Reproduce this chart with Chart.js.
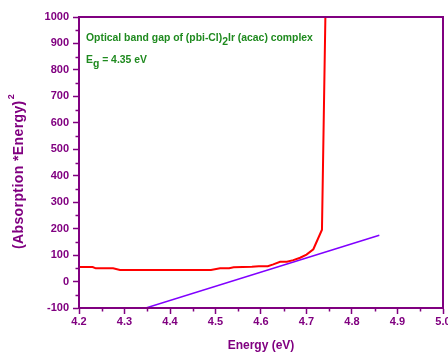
<!DOCTYPE html>
<html>
<head>
<meta charset="utf-8">
<script src="https://cdn.jsdelivr.net/npm/chart.js@4/dist/chart.umd.min.js"></script>
<style>
html,body{margin:0;padding:0;background:#fff;overflow:hidden;}
#wrap{width:448px;height:353px;}
</style>
</head>
<body>
<div id="wrap"><canvas id="c" width="448" height="353"></canvas></div>
<script>
const redEnergy = [4.20, 4.23, 4.237, 4.275, 4.29, 4.30, 4.40, 4.49, 4.51, 4.53, 4.54, 4.58, 4.595, 4.615, 4.627, 4.642, 4.657, 4.671, 4.686, 4.700, 4.715, 4.734, 4.7415];
const redValue  = [55, 55, 50, 50, 44, 44, 44, 44, 50, 50, 54, 56, 58, 58, 65, 75, 75, 81, 90, 102, 122, 196, 1000];
const fitEnergy = [4.347, 4.86];
const fitValue  = [-100, 175];
const xTickLabels = ['4.2','4.3','4.4','4.5','4.6','4.7','4.8','4.9','5.0'];
const yTickLabels = ['-100','0','100','200','300','400','500','600','700','800','900','1000'];
const xTitle = 'Energy (eV)';
const yTitle = ['(Absorption *Energy)', '2'];
const noteLine1 = ['Optical band gap of (pbi-Cl)', '2', 'Ir (acac) complex'];
const noteLine2 = ['E', 'g', ' = 4.35 eV'];

const PURPLE = '#800080';
const GREEN = '#1f8a1f';
const FONT = '"Liberation Sans", Arial, sans-serif';

function pts(xs, ys){ return xs.map((x,i)=>({x:x, y:ys[i]})); }

const isMajorX = v => Math.abs(Math.round(v*100)) % 10 === 0;
const isMajorY = v => Math.round(v) % 100 === 0;

const framePlugin = {
  id: 'frame',
  afterDraw(chart){
    const {ctx, chartArea:a, scales} = chart;
    ctx.save();
    ctx.strokeStyle = PURPLE;
    ctx.lineWidth = 2;
    ctx.strokeRect(a.left, a.top, a.right - a.left, a.bottom - a.top);
    // minor ticks
    ctx.lineWidth = 1.5;
    ctx.beginPath();
    scales.x.ticks.forEach(t => {
      if (!isMajorX(t.value)) {
        const px = Math.round(scales.x.getPixelForValue(t.value)) + 0.5;
        ctx.moveTo(px, a.bottom); ctx.lineTo(px, a.bottom + 3.5);
      }
    });
    scales.y.ticks.forEach(t => {
      if (!isMajorY(t.value)) {
        const py = Math.round(scales.y.getPixelForValue(t.value)) + 0.5;
        ctx.moveTo(a.left, py); ctx.lineTo(a.left - 3.5, py);
      }
    });
    ctx.stroke();
    // annotation text
    ctx.fillStyle = GREEN;
    ctx.textBaseline = 'alphabetic';
    const big = 'bold 10.4px ' + FONT;
    let x = a.left + 7, y = a.top + 24;
    ctx.font = big; ctx.fillText(noteLine1[0], x, y); x += ctx.measureText(noteLine1[0]).width;
    ctx.fillText(noteLine1[1], x, y + 4); x += ctx.measureText(noteLine1[1]).width;
    ctx.fillText(noteLine1[2], x, y);
    x = a.left + 7; y = a.top + 46;
    ctx.fillText(noteLine2[0], x, y); x += ctx.measureText(noteLine2[0]).width;
    ctx.fillText(noteLine2[1], x, y + 4); x += ctx.measureText(noteLine2[1]).width;
    ctx.fillText(noteLine2[2], x, y);
    // y axis title (rotated)
    ctx.fillStyle = PURPLE;
    ctx.translate(23, 172);
    ctx.rotate(-Math.PI / 2);
    ctx.font = 'bold 14px ' + FONT;
    try { ctx.letterSpacing = '0.4px'; } catch(e) {}
    const w1 = ctx.measureText(yTitle[0]).width;
    ctx.font = 'bold 9px ' + FONT;
    const w2 = ctx.measureText(yTitle[1]).width;
    let sx = -(w1 + w2) / 2;
    ctx.font = 'bold 14px ' + FONT;
    ctx.fillText(yTitle[0], sx, 0);
    ctx.font = 'bold 9px ' + FONT;
    ctx.fillText(yTitle[1], sx + w1 + 1, -9);
    ctx.restore();
  }
};

new Chart(document.getElementById('c'), {
  type: 'scatter',
  data: {
    datasets: [
      { data: pts(redEnergy, redValue), showLine: true, borderColor: '#ff0000', borderWidth: 2, pointRadius: 0, tension: 0, fill: false },
      { data: pts(fitEnergy, fitValue), showLine: true, borderColor: '#8000ff', borderWidth: 1.5, pointRadius: 0, tension: 0, fill: false }
    ]
  },
  options: {
    responsive: false,
    animation: false,
    layout: { padding: { top: 17, right: 5, left: 0, bottom: 0 } },
    plugins: { legend: { display: false }, tooltip: { enabled: false } },
    scales: {
      x: {
        type: 'linear', min: 4.2, max: 5.0,
        afterBuildTicks(s){ s.ticks = []; for (let i = 0; i <= 16; i++) s.ticks.push({value: +(4.2 + i*0.05).toFixed(2)}); },
        ticks: {
          autoSkip: false, maxRotation: 0, color: PURPLE, padding: 1,
          font: { family: FONT, size: 11, weight: 'bold' },
          callback: (v) => isMajorX(v) ? xTickLabels[Math.round((v - 4.2) * 10)] : ''
        },
        grid: { drawOnChartArea: false, tickLength: 6, tickWidth: 1.5,
          tickColor: c => (c.tick && isMajorX(c.tick.value)) ? PURPLE : 'rgba(0,0,0,0)' },
        border: { display: true, color: PURPLE, width: 2 },
        title: { display: true, text: xTitle, color: PURPLE, font: { family: FONT, size: 12, weight: 'bold' }, padding: { top: 4, bottom: 0 } },
        afterFit(s){ s.height = 45; s.paddingLeft = 0; s.paddingRight = 0; }
      },
      y: {
        type: 'linear', min: -100, max: 1000,
        afterBuildTicks(s){ s.ticks = []; for (let i = 0; i <= 22; i++) s.ticks.push({value: -100 + i*50}); },
        ticks: {
          autoSkip: false, color: PURPLE, padding: 4,
          font: { family: FONT, size: 11, weight: 'bold' },
          callback: (v) => isMajorY(v) ? yTickLabels[Math.round((v + 100) / 100)] : ''
        },
        grid: { drawOnChartArea: false, tickLength: 6, tickWidth: 1.5,
          tickColor: c => (c.tick && isMajorY(c.tick.value)) ? PURPLE : 'rgba(0,0,0,0)' },
        border: { display: true, color: PURPLE, width: 2 },
        title: { display: false },
        afterFit(s){ s.width = 79; s.paddingTop = 0; s.paddingBottom = 0; }
      }
    }
  },
  plugins: [framePlugin]
});
</script>
</body>
</html>
